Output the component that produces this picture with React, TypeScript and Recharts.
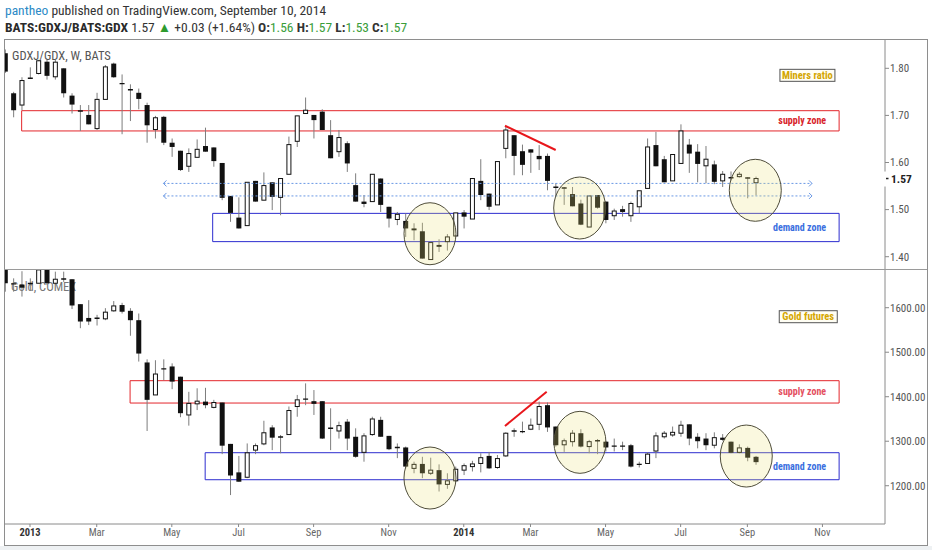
import React from 'react';
import { ComposedChart, Bar, XAxis, YAxis, ReferenceArea, ReferenceLine, ReferenceDot } from 'recharts';

const NARROW = "'Liberation Sans Narrow', 'Arial Narrow', 'Roboto Condensed', 'Liberation Sans', Arial, sans-serif";

// weekly bars (Monday dates)
const weeks = [
  '2012-12-17','2012-12-24','2012-12-31',
  '2013-01-07','2013-01-14','2013-01-21','2013-01-28','2013-02-04','2013-02-11','2013-02-18','2013-02-25',
  '2013-03-04','2013-03-11','2013-03-18','2013-03-25','2013-04-01','2013-04-08','2013-04-15','2013-04-22','2013-04-29',
  '2013-05-06','2013-05-13','2013-05-20','2013-05-27','2013-06-03','2013-06-10','2013-06-17','2013-06-24',
  '2013-07-01','2013-07-08','2013-07-15','2013-07-22','2013-07-29','2013-08-05','2013-08-12','2013-08-19','2013-08-26',
  '2013-09-02','2013-09-09','2013-09-16','2013-09-23','2013-09-30','2013-10-07','2013-10-14','2013-10-21','2013-10-28',
  '2013-11-04','2013-11-11','2013-11-18','2013-11-25','2013-12-02','2013-12-09','2013-12-16','2013-12-23','2013-12-30',
  '2014-01-06','2014-01-13','2014-01-20','2014-01-27','2014-02-03','2014-02-10','2014-02-17','2014-02-24',
  '2014-03-03','2014-03-10','2014-03-17','2014-03-24','2014-03-31','2014-04-07','2014-04-14','2014-04-21','2014-04-28',
  '2014-05-05','2014-05-12','2014-05-19','2014-05-26','2014-06-02','2014-06-09','2014-06-16','2014-06-23','2014-06-30',
  '2014-07-07','2014-07-14','2014-07-21','2014-07-28','2014-08-04','2014-08-11','2014-08-18','2014-08-25',
  '2014-09-01','2014-09-08',
];
const futureWeeks = [
  '2014-09-15','2014-09-22','2014-09-29','2014-10-06','2014-10-13','2014-10-20','2014-10-27',
  '2014-11-03','2014-11-10','2014-11-17','2014-11-24','2014-12-01','2014-12-08','2014-12-15','2014-12-22',
];
const tickWeeks = ['2013-01-07','2013-03-04','2013-05-06','2013-07-01','2013-09-02','2013-11-04','2014-01-06','2014-03-03','2014-05-05','2014-07-07','2014-09-01','2014-11-03'];
const tickLabels = ['2013','Mar','May','Jul','Sep','Nov','2014','Mar','May','Jul','Sep','Nov'];

// GDXJ/GDX ratio OHLC
const ratioOpen = [1.832,1.747,1.722,1.778,1.789,1.814,1.782,1.800,1.742,1.710,
1.701,1.672,1.734,1.810,1.768,1.755,1.748,1.722,1.670,1.697,
1.642,1.625,1.592,1.611,1.635,1.632,1.599,1.529,1.483,1.466,
1.561,1.520,1.558,1.526,1.575,1.645,1.704,1.701,1.708,1.658,
1.623,1.641,1.552,1.517,1.517,1.566,1.506,1.479,1.476,1.460,
1.454,1.394,1.425,1.432,1.444,1.494,1.480,1.561,1.534,1.510,
1.630,1.658,1.624,1.628,1.614,1.614,1.548,1.547,1.533,1.513,
1.463,1.531,1.517,1.487,1.501,1.487,1.506,1.545,1.637,1.607,
1.561,1.598,1.638,1.623,1.593,1.596,1.561,1.568,1.570,1.568,
1.557];
const ratioHigh = [1.840,1.750,1.781,1.802,1.818,1.818,1.818,1.800,1.747,1.722,
1.722,1.748,1.807,1.812,1.787,1.766,1.757,1.727,1.699,1.699,
1.651,1.625,1.630,1.649,1.674,1.632,1.599,1.529,1.526,1.558,
1.561,1.579,1.558,1.566,1.655,1.699,1.738,1.701,1.713,1.690,
1.669,1.645,1.577,1.531,1.575,1.566,1.506,1.495,1.492,1.471,
1.472,1.430,1.437,1.448,1.493,1.499,1.566,1.607,1.534,1.602,
1.676,1.658,1.638,1.628,1.637,1.619,1.556,1.548,1.548,1.521,
1.529,1.531,1.517,1.502,1.508,1.517,1.540,1.651,1.665,1.614,
1.617,1.681,1.650,1.639,1.635,1.604,1.582,1.581,1.580,1.569,
1.570];
const ratioLow = [1.790,1.696,1.711,1.778,1.787,1.776,1.776,1.738,1.704,1.667,
1.681,1.669,1.734,1.780,1.660,1.688,1.713,1.642,1.651,1.637,
1.612,1.582,1.580,1.611,1.623,1.591,1.520,1.474,1.460,1.466,
1.517,1.520,1.499,1.488,1.575,1.633,1.704,1.651,1.669,1.609,
1.612,1.580,1.517,1.505,1.517,1.495,1.462,1.467,1.442,1.435,
1.396,1.394,1.410,1.413,1.444,1.460,1.480,1.520,1.499,1.510,
1.609,1.573,1.573,1.578,1.584,1.541,1.527,1.510,1.507,1.467,
1.463,1.502,1.471,1.478,1.485,1.474,1.492,1.545,1.592,1.558,
1.561,1.598,1.578,1.558,1.556,1.554,1.548,1.562,1.568,1.524,
1.530];
const ratioClose = [1.793,1.711,1.774,1.780,1.816,1.784,1.813,1.747,1.723,1.709,
1.681,1.734,1.803,1.781,1.767,1.754,1.735,1.679,1.695,1.642,
1.633,1.584,1.619,1.628,1.623,1.603,1.525,1.493,1.460,1.558,
1.517,1.551,1.527,1.566,1.638,1.699,1.711,1.690,1.669,1.609,
1.653,1.598,1.517,1.512,1.575,1.510,1.481,1.490,1.460,1.456,
1.396,1.430,1.421,1.442,1.493,1.485,1.566,1.531,1.506,1.602,
1.669,1.614,1.595,1.621,1.607,1.561,1.547,1.545,1.507,1.468,
1.529,1.504,1.478,1.497,1.495,1.513,1.540,1.633,1.592,1.558,
1.617,1.667,1.619,1.597,1.607,1.559,1.575,1.567,1.575,1.566,
1.566];

// Gold futures OHLC
const goldOpen = [1690,1655,1652,1654,1655,1685,1655,1664,1664,1608,
1577,1576,1575,1593,1606,1593,1572,1477,1404,1462,
1468,1445,1359,1384,1389,1376,1387,1294,1230,1219,
1280,1294,1331,1309,1315,1378,1394,1390,1390,1329,
1323,1344,1310,1275,1315,1348,1312,1286,1286,1239,
1249,1228,1235,1203,1211,1235,1243,1250,1267,1241,
1267,1323,1321,1327,1338,1381,1333,1292,1299,1318,
1288,1301,1299,1289,1289,1291,1248,1250,1278,1310,
1314,1318,1338,1310,1306,1291,1308,1299,1275,1285,
1265];
const goldHigh = [1700,1666,1682,1666,1690,1690,1681,1681,1664,1608,
1617,1584,1599,1615,1611,1599,1587,1484,1482,1484,
1475,1445,1411,1419,1420,1393,1387,1294,1267,1295,
1295,1346,1336,1314,1378,1404,1430,1415,1390,1374,
1344,1350,1329,1318,1355,1355,1312,1295,1288,1254,
1265,1263,1248,1228,1243,1250,1256,1273,1276,1269,
1320,1329,1344,1351,1389,1387,1333,1306,1325,1327,
1303,1305,1301,1306,1299,1294,1254,1275,1320,1323,
1333,1346,1338,1318,1318,1320,1316,1299,1293,1288,
1267];
const goldLow = [1636,1636,1625,1638,1655,1651,1651,1658,1597,1554,
1561,1560,1572,1591,1587,1537,1479,1323,1404,1437,
1417,1354,1335,1370,1374,1374,1271,1179,1209,1217,
1271,1291,1280,1273,1315,1355,1381,1359,1305,1280,
1306,1280,1263,1254,1312,1310,1280,1262,1239,1228,
1217,1224,1187,1193,1208,1224,1232,1230,1238,1238,
1265,1310,1318,1325,1325,1321,1288,1276,1288,1286,
1273,1271,1277,1277,1280,1241,1241,1249,1262,1306,
1310,1310,1291,1284,1280,1284,1301,1273,1273,1255,
1247];
const goldClose = [1655,1652,1645,1655,1685,1655,1664,1665,1605,1569,
1569,1577,1590,1604,1591,1572,1497,1393,1451,1463,
1434,1363,1385,1390,1381,1387,1290,1223,1209,1274,
1290,1319,1308,1310,1369,1393,1395,1384,1306,1329,
1335,1306,1265,1312,1350,1310,1282,1286,1243,1248,
1228,1235,1203,1211,1237,1245,1249,1263,1239,1261,
1318,1323,1322,1336,1378,1331,1291,1301,1318,1288,
1299,1301,1286,1289,1289,1243,1248,1271,1312,1318,
1320,1336,1306,1300,1291,1308,1303,1274,1285,1263,
1253];

const ratioTicks = [1.4, 1.5, 1.6, 1.7, 1.8];
const goldTicks = [1200, 1300, 1400, 1500, 1600];

// annotations in data coordinates (week position, price)
const ratioZones = [
  { label: 'supply zone', from: 2, to: 100, low: 1.667, high: 1.710, kind: 'supply' },
  { label: 'demand zone', from: 24.9, to: 100, low: 1.432, high: 1.492, kind: 'demand' },
];
const goldZones = [
  { label: 'supply zone', from: 15, to: 100, low: 1385.8, high: 1436.0, kind: 'supplyLight' },
  { label: 'demand zone', from: 24, to: 100, low: 1213.5, high: 1274.2, kind: 'demand' },
];
const ratioCircles = [
  { x: 50.95, y: 1.4488 },
  { x: 68.9, y: 1.5034 },
  { x: 89.95, y: 1.541 },
];
const goldCircles = [
  { x: 50.95, y: 1217.3 },
  { x: 68.93, y: 1297.5 },
  { x: 88.87, y: 1266.7 },
];
const ratioTrend = [{ x: 59.94, y: 1.678 }, { x: 66.02, y: 1.6266 }];
const goldTrend = [{ x: 59.94, y: 1334.2 }, { x: 64.94, y: 1411.2 }];
const ratioRays = [
  { from: 19, to: 96.75, value: 1.5556 },
  { from: 19, to: 96.75, value: 1.529 },
];
const ratioTag = { text: 'Miners ratio', x: 96.2, y: 1.7851 };
const goldTag = { text: 'Gold futures', x: 96.3, y: 1579.8 };

const buildRows = (o: number[], h: number[], l: number[], c: number[]) => [
  ...weeks.map((w, i) => ({ w, i, o: o[i], h: h[i], l: l[i], c: c[i] })),
  ...futureWeeks.map((w, j) => ({ w, i: weeks.length + j })),
];
const ratioRows = buildRows(ratioOpen, ratioHigh, ratioLow, ratioClose);
const goldRows = buildRows(goldOpen, goldHigh, goldLow, goldClose);
const lastRatio = ratioClose[ratioClose.length - 1];

const rangeKey = (d: any) => (d.h == null ? null : [d.l, d.h]);

const Candle = (props: any) => {
  const { x, y, width, height, payload } = props;
  if (!payload || payload.h == null || x == null) return null;
  const top = Math.min(y, y + height);
  const bottom = Math.max(y, y + height);
  const span = payload.h - payload.l;
  const k = span > 0 ? (bottom - top) / span : 0;
  const cx = x + width / 2;
  const yO = top + (payload.h - payload.o) * k;
  const yC = top + (payload.h - payload.c) * k;
  const bt = Math.min(yO, yC);
  const bb = Math.max(yO, yC);
  const up = payload.c > payload.o;
  let body;
  if (bb - bt < 1.5) {
    body = <line x1={cx - 2.5} x2={cx + 2.5} y1={(bt + bb) / 2} y2={(bt + bb) / 2} stroke="#111" strokeWidth={1.4} />;
  } else if (up) {
    body = <rect x={cx - 2} y={bt} width={4} height={bb - bt} fill="#fff" stroke="#111" strokeWidth={1} />;
  } else {
    body = <rect x={cx - 2.5} y={bt} width={5} height={bb - bt} fill="#111" />;
  }
  return (
    <g>
      <line x1={cx} x2={cx} y1={top} y2={bottom} stroke="#7d7d7d" strokeWidth={1} />
      {body}
    </g>
  );
};

const PriceTick = (props: any) => {
  const { x, y, payload, digits, last } = props;
  const v = payload.value as number;
  const isLast = last != null && Math.abs(v - last) < 1e-9;
  const axisX = x - 5;
  if (isLast) {
    return (
      <g>
        <rect x={axisX - 1} y={y - 7} width={40} height={15} fill="#fff" />
        <line x1={axisX + 1} x2={axisX + 3.5} y1={y} y2={y} stroke="#222" strokeWidth={1.5} />
        <text x={x + 1} y={y} dy="0.35em" fontSize={11.5} fontWeight={700} fill="#222" fontFamily={NARROW}>{v.toFixed(digits)}</text>
      </g>
    );
  }
  return <text x={x} y={y} dy="0.35em" fontSize={11} fill="#555" fontFamily={NARROW}>{v.toFixed(digits)}</text>;
};

const DateTick = (props: any) => {
  const { x, y, payload } = props;
  const label = tickLabels[tickWeeks.indexOf(payload.value)];
  if (!label) return null;
  const bold = /^\d{4}$/.test(label);
  return (
    <text x={x} y={y} dy="0.71em" textAnchor="middle" fontSize={10.5} fontWeight={bold ? 700 : 400} fill={bold ? '#333' : '#666'} fontFamily={NARROW}>{label}</text>
  );
};

const ellipseShape = (p: any) => (
  <ellipse cx={p.cx} cy={p.cy} rx={26} ry={31} fill="#ebe27a" fillOpacity={0.24} stroke="#4f4d3a" strokeWidth={1} />
);

const rayShape = (p: any) => {
  const xa = Math.min(p.x1, p.x2);
  const xb = Math.max(p.x1, p.x2);
  const yy = p.y1;
  return (
    <g stroke="#6a98e4" fill="none" strokeWidth={1}>
      <line x1={xa} x2={xb} y1={yy} y2={yy} strokeDasharray="2 2" />
      <polyline points={`${xa + 3},${yy - 3} ${xa},${yy} ${xa + 3},${yy + 3}`} />
      <polyline points={`${xb - 3},${yy - 3} ${xb},${yy} ${xb - 3},${yy + 3}`} />
    </g>
  );
};

const tagShape = (text: string, w: number) => (p: any) => (
  <g>
    <rect x={p.cx - w / 2} y={p.cy - 6} width={w} height={12} fill="#fffef4" stroke="#555" strokeWidth={1} />
    <text x={p.cx} y={p.cy} dy="0.36em" textAnchor="middle" fontSize={10.5} fontWeight={700} fill="#d4a600" fontFamily={NARROW}>{text}</text>
  </g>
);

const zoneColors: any = {
  supply: { stroke: '#e3262b', text: '#d8232a' },
  supplyLight: { stroke: '#e3262b', text: '#e4505f' },
  demand: { stroke: '#2c2ccf', text: '#3b6fe0' },
};

const renderZones = (zones: any[]) =>
  zones.map((z, k) => (
    <ReferenceArea
      key={'z' + k}
      xAxisId="num"
      yAxisId="p"
      x1={z.from}
      x2={z.to}
      y1={z.low}
      y2={z.high}
      fill="none"
      fillOpacity={0}
      stroke={zoneColors[z.kind].stroke}
      strokeWidth={1}
      ifOverflow="visible"
      label={{ value: z.label, position: 'insideRight', offset: 13, fill: zoneColors[z.kind].text, fontSize: 10, fontWeight: 700, fontFamily: NARROW }}
    />
  ));

const renderCircles = (cs: any[]) =>
  cs.map((c, k) => (
    <ReferenceDot key={'c' + k} xAxisId="num" yAxisId="p" x={c.x} y={c.y} r={1} shape={ellipseShape} ifOverflow="visible" />
  ));

const PLOT_RIGHT_MARGIN = 4;
const AXIS_W = 43;

export default function App() {
  return (
    <div style={{ position: 'absolute', left: 0, top: 0, width: 932, height: 550, background: '#fff', overflow: 'hidden', fontFamily: NARROW }}>
      {/* header */}
      <div style={{ position: 'absolute', left: 5, top: 2, fontSize: 13.5, lineHeight: '16px', color: '#333', whiteSpace: 'nowrap' }}>
        <span style={{ color: '#2b8ac6' }}>pantheo</span> published on TradingView.com, September 10, 2014
      </div>
      <div style={{ position: 'absolute', left: 5, top: 19, fontSize: 13.5, lineHeight: '16px', color: '#333', whiteSpace: 'nowrap' }}>
        <span style={{ fontWeight: 700, color: '#2a2a2a' }}>BATS:GDXJ/BATS:GDX</span> 1.57 <span style={{ color: '#2e9b2e' }}>▲</span> +0.03 (+1.64%){' '}
        <b>O:</b><span style={{ color: '#3a9d3a' }}>1.56</span>{' '}
        <b>H:</b><span style={{ color: '#3a9d3a' }}>1.57</span>{' '}
        <b>L:</b><span style={{ color: '#3a9d3a' }}>1.53</span>{' '}
        <b>C:</b><span style={{ color: '#3a9d3a' }}>1.57</span>
      </div>

      {/* panel titles (under the candles) */}
      <div style={{ position: 'absolute', left: 12, top: 48, fontSize: 12.5, color: '#555', whiteSpace: 'nowrap' }}>GDXJ/GDX, W, BATS</div>
      <div style={{ position: 'absolute', left: 11, top: 279, fontSize: 12.5, color: '#777', whiteSpace: 'nowrap' }}>Gold, COMEX</div>

      <div style={{ position: 'absolute', left: 5, top: 0, width: 922, height: 550, overflow: 'hidden' }}>
        {/* top panel: GDXJ/GDX */}
        <div style={{ position: 'absolute', left: -5, top: 40 }}>
          <ComposedChart width={932} height={229} data={ratioRows} margin={{ top: 0, right: PLOT_RIGHT_MARGIN, bottom: 0, left: 0.8 }}>
            <XAxis xAxisId="cat" dataKey="w" hide />
            <XAxis xAxisId="num" dataKey="i" type="number" domain={[-0.5, 105.5]} hide allowDataOverflow />
            <YAxis
              yAxisId="p"
              orientation="right"
              domain={[1.3739, 1.8601]}
              allowDataOverflow
              ticks={[...ratioTicks, lastRatio]}
              interval={0}
              width={AXIS_W}
              tickSize={4}
              tickMargin={1}
              stroke="#8a8a8a"
              tick={(p: any) => <PriceTick {...p} digits={2} last={lastRatio} />}
            />
            {renderZones(ratioZones)}
            <Bar xAxisId="cat" yAxisId="p" dataKey={rangeKey} shape={(p: any) => <Candle {...p} />} barSize={5} isAnimationActive={false} />
            {ratioRays.map((r, k) => (
              <ReferenceLine key={'r' + k} xAxisId="num" yAxisId="p" segment={[{ x: r.from, y: r.value }, { x: r.to, y: r.value }]} shape={rayShape} ifOverflow="visible" />
            ))}
            <ReferenceLine xAxisId="num" yAxisId="p" segment={ratioTrend} stroke="#e8161b" strokeWidth={2} ifOverflow="visible" />
            {renderCircles(ratioCircles)}
            <ReferenceDot xAxisId="num" yAxisId="p" x={ratioTag.x} y={ratioTag.y} r={1} shape={tagShape(ratioTag.text, 55)} ifOverflow="visible" />
          </ComposedChart>
        </div>

        {/* bottom panel: Gold */}
        <div style={{ position: 'absolute', left: -5, top: 269 }}>
          <ComposedChart width={932} height={275} data={goldRows} margin={{ top: 0, right: PLOT_RIGHT_MARGIN, bottom: 0, left: 0.8 }}>
            <XAxis
              xAxisId="cat"
              dataKey="w"
              ticks={tickWeeks}
              interval={0}
              height={20}
              tickSize={3}
              tickMargin={2}
              stroke="#8a8a8a"
              tick={(p: any) => <DateTick {...p} />}
            />
            <XAxis xAxisId="num" dataKey="i" type="number" domain={[-0.5, 105.5]} hide allowDataOverflow />
            <YAxis
              yAxisId="p"
              orientation="right"
              domain={[1114, 1687]}
              allowDataOverflow
              ticks={goldTicks}
              interval={0}
              width={AXIS_W}
              tickSize={4}
              tickMargin={1}
              stroke="#8a8a8a"
              tick={(p: any) => <PriceTick {...p} digits={2} last={null} />}
            />
            {renderZones(goldZones)}
            <Bar xAxisId="cat" yAxisId="p" dataKey={rangeKey} shape={(p: any) => <Candle {...p} />} barSize={5} isAnimationActive={false} />
            <ReferenceLine xAxisId="num" yAxisId="p" segment={goldTrend} stroke="#e8161b" strokeWidth={2} ifOverflow="visible" />
            {renderCircles(goldCircles)}
            <ReferenceDot xAxisId="num" yAxisId="p" x={goldTag.x} y={goldTag.y} r={1} shape={tagShape(goldTag.text, 58)} ifOverflow="visible" />
          </ComposedChart>
        </div>
      </div>

      {/* frame */}
      <div style={{ position: 'absolute', left: 4, top: 39, width: 922, height: 505, border: '1px solid #8e8e8e', pointerEvents: 'none' }} />
      <div style={{ position: 'absolute', left: 4, top: 268.5, width: 923, height: 1, background: '#9a9a9a' }} />
      <div style={{ position: 'absolute', left: 0, top: 546, width: 932, height: 4, background: '#eef1f3' }} />
    </div>
  );
}
